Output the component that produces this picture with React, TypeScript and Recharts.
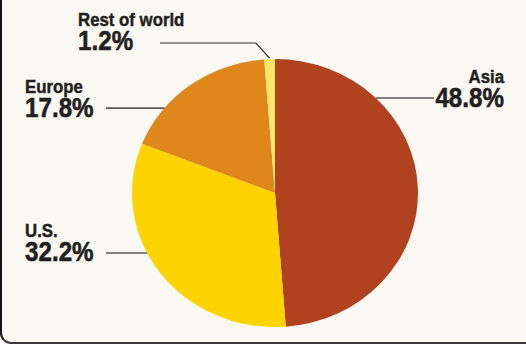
import React from 'react';
import { PieChart, Pie, Cell } from 'recharts';

const regions = ['Asia', 'U.S.', 'Europe', 'Rest of world'];
const shares = [48.8, 32.2, 17.8, 1.2];
const colors = ['#b0421f', '#fdd402', '#df871b', '#fde56a'];

const data = regions.map((name, i) => ({ name, value: shares[i] }));

const SY = 134 / 143;
const W = 526;
const H = 344 / SY;
const FONT = "'Liberation Sans', Arial, sans-serif";
const TEXT = '#231f20';
const SX = 0.82;

type Layout = {
  anchor: 'start' | 'end';
  x: number;
  nameY: number;
  valueY: number;
  lineY: number;
  lineX: number;
  elbowX?: number;
  side: 1 | -1;
};

const labelLayout: Layout[] = [
  { anchor: 'end', x: 504, nameY: 88.6, valueY: 114.2, lineY: 104.6, lineX: 434, side: 1 },
  { anchor: 'start', x: 25, nameY: 253, valueY: 278.6, lineY: 270, lineX: 106, side: -1 },
  { anchor: 'start', x: 25, nameY: 99.3, valueY: 124.9, lineY: 115.3, lineX: 106, side: -1 },
  { anchor: 'start', x: 78, nameY: 27.7, valueY: 53.4, lineY: 45.9, lineX: 160, elbowX: 256, side: -1 },
];

const RAD = Math.PI / 180;

const renderLabel = (props: any) => {
  const { cx, cy, outerRadius, midAngle, index, name, value } = props;
  const L = labelLayout[index];
  if (!L) return null;
  let line: string;
  if (L.elbowX !== undefined) {
    const ex = cx + (outerRadius + 1) * Math.cos(-midAngle * RAD);
    const ey = cy + (outerRadius + 1) * Math.sin(-midAngle * RAD);
    line = `${L.lineX},${L.lineY} ${L.elbowX},${L.lineY} ${ex},${ey}`;
  } else {
    const dy = L.lineY - cy;
    const ex = cx + L.side * Math.sqrt(Math.max(0, outerRadius * outerRadius - dy * dy));
    line = `${L.lineX},${L.lineY} ${ex},${L.lineY}`;
  }
  return (
    <g key={`lbl-${index}`}>
      <polyline
        points={line}
        fill="none"
        stroke={index === 3 ? '#333' : '#5a5a5a'}
        strokeWidth={index === 3 ? 1.3 : 1.8}
      />
      <g transform={`translate(${L.x},0) scale(${SX},1)`}>
        <text
          x={0}
          y={L.nameY}
          textAnchor={L.anchor}
          fontFamily={FONT}
          fontWeight={700}
          fontSize={20.5}
          fill={TEXT}
          stroke={TEXT}
          strokeWidth={0.5}
        >
          {name}
        </text>
        <text
          x={0}
          y={L.valueY}
          textAnchor={L.anchor}
          fontFamily={FONT}
          fontWeight={700}
          fontSize={29.5}
          fill={TEXT}
          stroke={TEXT}
          strokeWidth={0.6}
        >
          {`${Number(value).toFixed(1)}%`}
        </text>
      </g>
    </g>
  );
};

export default function App() {
  return (
    <div
      style={{
        position: 'absolute',
        left: 0,
        top: 0,
        width: W,
        height: 344,
        boxSizing: 'border-box',
        background: '#f9f8f2',
        borderLeft: '2px solid #151515',
        borderBottom: '2px solid #3a3a3a',
        borderBottomLeftRadius: 11,
        overflow: 'hidden',
      }}
    >
      <div
        style={{
          position: 'absolute',
          left: -2,
          top: 0,
          width: W,
          height: H,
          transform: `scaleY(${SY})`,
          transformOrigin: '0 0',
        }}
      >
        <PieChart width={W} height={H} margin={{ top: 0, right: 0, bottom: 0, left: 0 }}>
          <Pie
            data={data}
            dataKey="value"
            nameKey="name"
            cx={275}
            cy={206}
            outerRadius={143}
            startAngle={90}
            endAngle={-270}
            stroke="none"
            label={renderLabel}
            labelLine={false}
            isAnimationActive={false}
          >
            {data.map((d, i) => (
              <Cell key={d.name} fill={colors[i]} />
            ))}
          </Pie>
        </PieChart>
      </div>
    </div>
  );
}
